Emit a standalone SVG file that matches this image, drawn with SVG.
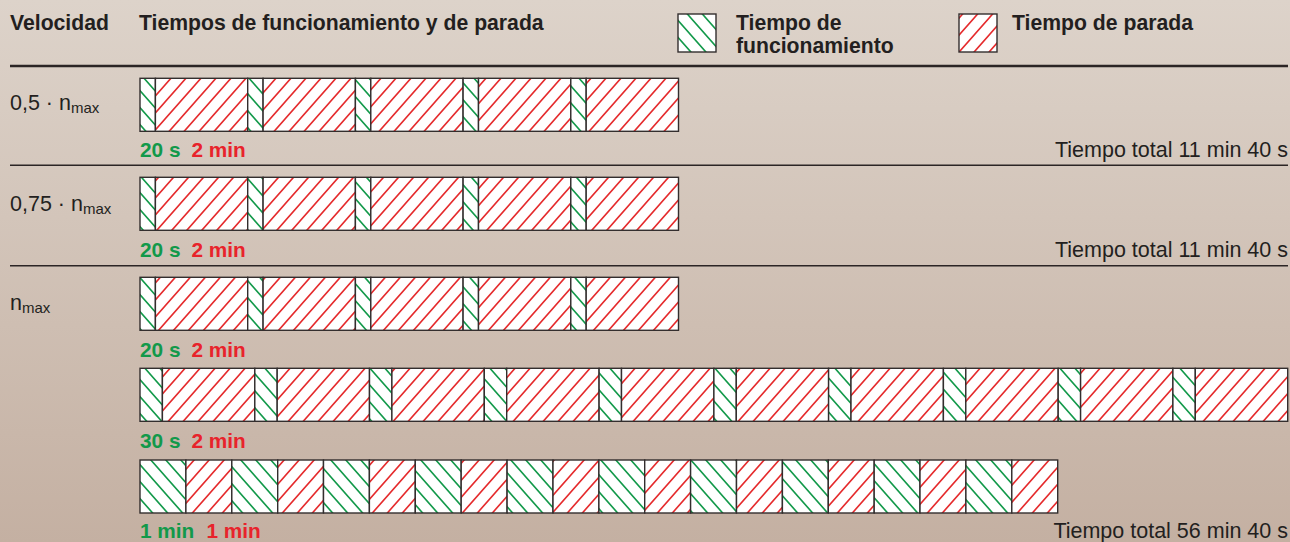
<svg xmlns="http://www.w3.org/2000/svg" width="1290" height="542" viewBox="0 0 1290 542">
<defs>
<linearGradient id="bg" x1="0" y1="0" x2="0" y2="1">
<stop offset="0" stop-color="#ddd3ca"/>
<stop offset="1" stop-color="#c4b0a2"/>
</linearGradient>
<pattern id="hg" patternUnits="userSpaceOnUse" width="15" height="17">
<rect width="15" height="17" fill="#fff"/>
<path d="M0,0 L15,17 M-1,15.867 L1,18.133 M14,-1.133 L16,1.133" stroke="#12994a" stroke-width="1.6" fill="none"/>
</pattern>
<pattern id="hr" patternUnits="userSpaceOnUse" width="15" height="17">
<rect width="15" height="17" fill="#fff"/>
<path d="M0,17 L15,0 M-1,1.133 L1,-1.133 M14,18.133 L16,15.867" stroke="#e52a2c" stroke-width="1.6" fill="none"/>
</pattern>
</defs>
<style>
.t{font-family:"Liberation Sans",Arial,sans-serif;fill:#231f20}
.b{font-weight:bold;font-size:21.2px}
.n{font-size:21.5px}
.sub{font-size:15px}
.gt{font-family:"Liberation Sans",Arial,sans-serif;font-weight:bold;font-size:20.8px;fill:#12994a}
.rt{font-family:"Liberation Sans",Arial,sans-serif;font-weight:bold;font-size:20.8px;fill:#e8232b}
.g{fill:url(#hg);stroke:#332e2e;stroke-width:1.4}
.r{fill:url(#hr);stroke:#332e2e;stroke-width:1.4}
.rule{stroke:#2b2525;fill:none}
</style>
<rect width="1290" height="542" fill="url(#bg)"/>

<g id="header">
<text class="t b" x="10" y="30">Velocidad</text>
<text class="t b" x="139" y="30">Tiempos de funcionamiento y de parada</text>
</g>
<g id="legend-funcionamiento">
<rect class="g" x="678" y="14" width="38" height="38"/>
<text class="t b" x="736" y="30">Tiempo de</text>
<text class="t b" x="736" y="53">funcionamiento</text>
</g>
<g id="legend-parada">
<rect class="r" x="959" y="14" width="38" height="38"/>
<text class="t b" x="1012" y="29.5">Tiempo de parada</text>
</g>

<g id="rules">
<line class="rule" x1="10" y1="66" x2="1288" y2="66" stroke-width="2.6"/>
<line class="rule" x1="10" y1="165.3" x2="1288" y2="165.3" stroke-width="1.5"/>
<line class="rule" x1="10" y1="265.7" x2="1288" y2="265.7" stroke-width="1.5"/>
</g>

<g id="row1">
<text class="t n" x="10" y="110">0,5 · n<tspan class="sub" dy="3">max</tspan></text>
<g id="bar1">
<rect class="g" x="140" y="78.3" width="15.4" height="53"/>
<rect class="r" x="155.4" y="78.3" width="92.3" height="53"/>
<rect class="g" x="247.7" y="78.3" width="15.4" height="53"/>
<rect class="r" x="263.1" y="78.3" width="92.3" height="53"/>
<rect class="g" x="355.4" y="78.3" width="15.4" height="53"/>
<rect class="r" x="370.8" y="78.3" width="92.3" height="53"/>
<rect class="g" x="463.1" y="78.3" width="15.4" height="53"/>
<rect class="r" x="478.5" y="78.3" width="92.3" height="53"/>
<rect class="g" x="570.8" y="78.3" width="15.4" height="53"/>
<rect class="r" x="586.2" y="78.3" width="92.3" height="53"/>
</g>
<text class="gt" x="140" y="157">20 s</text>
<text class="rt" x="191.5" y="157">2 min</text>
<text class="t n" x="1288" y="157" text-anchor="end">Tiempo total 11 min 40 s</text>
</g>

<g id="row2">
<text class="t n" x="10" y="210.7">0,75 · n<tspan class="sub" dy="3">max</tspan></text>
<g id="bar2">
<rect class="g" x="140" y="177.3" width="15.4" height="53"/>
<rect class="r" x="155.4" y="177.3" width="92.3" height="53"/>
<rect class="g" x="247.7" y="177.3" width="15.4" height="53"/>
<rect class="r" x="263.1" y="177.3" width="92.3" height="53"/>
<rect class="g" x="355.4" y="177.3" width="15.4" height="53"/>
<rect class="r" x="370.8" y="177.3" width="92.3" height="53"/>
<rect class="g" x="463.1" y="177.3" width="15.4" height="53"/>
<rect class="r" x="478.5" y="177.3" width="92.3" height="53"/>
<rect class="g" x="570.8" y="177.3" width="15.4" height="53"/>
<rect class="r" x="586.2" y="177.3" width="92.3" height="53"/>
</g>
<text class="gt" x="140" y="257.3">20 s</text>
<text class="rt" x="191.5" y="257.3">2 min</text>
<text class="t n" x="1288" y="257.3" text-anchor="end">Tiempo total 11 min 40 s</text>
</g>

<g id="row3">
<text class="t n" x="10" y="310">n<tspan class="sub" dy="3">max</tspan></text>
<g id="bar3a">
<rect class="g" x="140" y="277.3" width="15.4" height="53"/>
<rect class="r" x="155.4" y="277.3" width="92.3" height="53"/>
<rect class="g" x="247.7" y="277.3" width="15.4" height="53"/>
<rect class="r" x="263.1" y="277.3" width="92.3" height="53"/>
<rect class="g" x="355.4" y="277.3" width="15.4" height="53"/>
<rect class="r" x="370.8" y="277.3" width="92.3" height="53"/>
<rect class="g" x="463.1" y="277.3" width="15.4" height="53"/>
<rect class="r" x="478.5" y="277.3" width="92.3" height="53"/>
<rect class="g" x="570.8" y="277.3" width="15.4" height="53"/>
<rect class="r" x="586.2" y="277.3" width="92.3" height="53"/>
</g>
<text class="gt" x="140" y="356.7">20 s</text>
<text class="rt" x="191.5" y="356.7">2 min</text>

<g id="bar3b">
<rect class="g" x="140" y="368.3" width="22.4" height="53"/>
<rect class="r" x="162.4" y="368.3" width="92.4" height="53"/>
<rect class="g" x="254.8" y="368.3" width="22.4" height="53"/>
<rect class="r" x="277.2" y="368.3" width="92.3" height="53"/>
<rect class="g" x="369.5" y="368.3" width="22.4" height="53"/>
<rect class="r" x="391.9" y="368.3" width="92.4" height="53"/>
<rect class="g" x="484.3" y="368.3" width="22.4" height="53"/>
<rect class="r" x="506.7" y="368.3" width="92.4" height="53"/>
<rect class="g" x="599.1" y="368.3" width="22.4" height="53"/>
<rect class="r" x="621.5" y="368.3" width="92.4" height="53"/>
<rect class="g" x="713.9" y="368.3" width="22.4" height="53"/>
<rect class="r" x="736.3" y="368.3" width="92.3" height="53"/>
<rect class="g" x="828.6" y="368.3" width="22.4" height="53"/>
<rect class="r" x="851" y="368.3" width="92.4" height="53"/>
<rect class="g" x="943.4" y="368.3" width="22.4" height="53"/>
<rect class="r" x="965.8" y="368.3" width="92.4" height="53"/>
<rect class="g" x="1058.2" y="368.3" width="22.4" height="53"/>
<rect class="r" x="1080.6" y="368.3" width="92.3" height="53"/>
<rect class="g" x="1172.9" y="368.3" width="22.4" height="53"/>
<rect class="r" x="1195.3" y="368.3" width="92.4" height="53"/>
</g>
<text class="gt" x="140" y="448.3">30 s</text>
<text class="rt" x="191.5" y="448.3">2 min</text>

<g id="bar3c">
<rect class="g" x="140" y="460" width="45.9" height="53"/>
<rect class="r" x="185.9" y="460" width="45.9" height="53"/>
<rect class="g" x="231.8" y="460" width="45.9" height="53"/>
<rect class="r" x="277.7" y="460" width="45.8" height="53"/>
<rect class="g" x="323.5" y="460" width="45.9" height="53"/>
<rect class="r" x="369.4" y="460" width="45.9" height="53"/>
<rect class="g" x="415.3" y="460" width="45.9" height="53"/>
<rect class="r" x="461.2" y="460" width="45.9" height="53"/>
<rect class="g" x="507.1" y="460" width="45.9" height="53"/>
<rect class="r" x="553" y="460" width="45.9" height="53"/>
<rect class="g" x="598.9" y="460" width="45.8" height="53"/>
<rect class="r" x="644.7" y="460" width="45.9" height="53"/>
<rect class="g" x="690.6" y="460" width="45.9" height="53"/>
<rect class="r" x="736.5" y="460" width="45.9" height="53"/>
<rect class="g" x="782.4" y="460" width="45.9" height="53"/>
<rect class="r" x="828.3" y="460" width="45.9" height="53"/>
<rect class="g" x="874.2" y="460" width="45.8" height="53"/>
<rect class="r" x="920" y="460" width="45.9" height="53"/>
<rect class="g" x="965.9" y="460" width="45.9" height="53"/>
<rect class="r" x="1011.8" y="460" width="45.9" height="53"/>
</g>
<text class="gt" x="140" y="538">1 min</text>
<text class="rt" x="206.5" y="538">1 min</text>
<text class="t n" x="1288" y="538" text-anchor="end">Tiempo total 56 min 40 s</text>
</g>
</svg>
